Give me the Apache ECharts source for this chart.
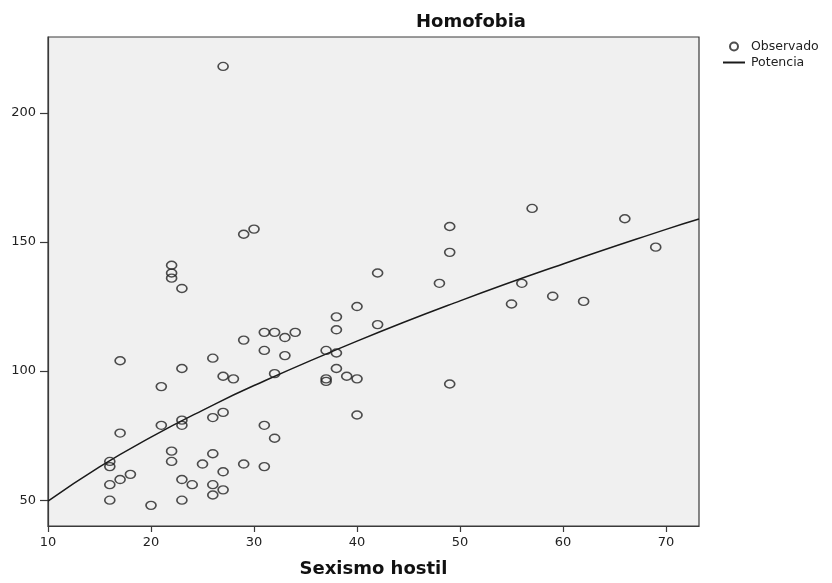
<!DOCTYPE html>
<html>
<head>
<meta charset="utf-8">
<script src="https://cdn.jsdelivr.net/npm/echarts@6/dist/echarts.min.js"></script>
<style>
  html, body { margin: 0; padding: 0; background: #fff; }
  #chart { width: 832px; height: 583px; }
</style>
</head>
<body>
<div id="chart"></div>
<script>
// observed points (Sexismo hostil, Homofobia)
const obsX = [16, 16, 16, 16, 17, 17, 17, 18, 20, 21, 21,
  22, 22, 22, 22, 22, 23, 23, 23, 23, 23, 23, 24, 25,
  26, 26, 26, 26, 26, 27, 27, 27, 27, 27, 28, 29, 29, 29, 30,
  31, 31, 31, 31, 32, 32, 32, 33, 33, 34, 37, 37, 37,
  38, 38, 38, 38, 39, 40, 40, 40, 42, 42, 48, 49, 49, 49,
  55, 56, 57, 59, 62, 66, 69]
const obsY = [65, 63, 56, 50, 104, 76, 58, 60, 48, 94, 79,
  141, 138, 136, 69, 65, 132, 101, 81, 79, 58, 50, 56, 64,
  105, 82, 68, 56, 52, 218, 98, 84, 61, 54, 97, 153, 112, 64, 155,
  115, 108, 79, 63, 115, 99, 74, 113, 106, 115, 108, 97, 96,
  121, 116, 107, 101, 98, 125, 97, 83, 138, 118, 134, 156, 146, 95,
  126, 134, 163, 129, 127, 159, 148]

// fitted power curve
const fitX = [10, 15, 20, 25, 30, 40, 50, 60, 70, 73.2]
const fitY = [49.6, 62.9, 74.4, 84.8, 94.4, 111.6, 127.2, 141.5, 154.9, 158.9]

const xTicks = [10, 20, 30, 40, 50, 60, 70]
const yTicks = [50, 100, 150, 200]

const FONT = 'DejaVu Sans'
const AXIS_COLOR = '#3a3a3a'

const chart = echarts.init(document.getElementById('chart'))

const option = {
  animation: false,
  backgroundColor: '#fff',
  title: {
    text: 'Homofobia',
    left: 411,
    top: 8,
    textStyle: { fontFamily: FONT, fontSize: 18, fontWeight: 'bold', color: '#111' }
  },
  legend: {
    orient: 'vertical',
    left: 717,
    top: 35,
    itemWidth: 22,
    itemHeight: 8,
    itemGap: 3,
    textStyle: { fontFamily: FONT, fontSize: 12.5, color: '#222', padding: [0, 0, 0, 1] },
    data: [
      { name: 'Observado', icon: 'circle' },
      // line only, no dot on the legend line
      { name: 'Potencia', itemStyle: { opacity: 0 } }
    ]
  },
  grid: {
    left: 48,
    top: 37,
    right: 133,
    bottom: 55,
    show: true,
    backgroundColor: '#f0f0f0',
    borderColor: AXIS_COLOR,
    borderWidth: 1.2
  },
  xAxis: {
    type: 'value',
    min: 10,
    max: 73.2,
    interval: 10,
    name: 'Sexismo hostil',
    nameLocation: 'middle',
    nameGap: 34,
    nameTextStyle: { fontFamily: FONT, fontSize: 18, fontWeight: 'bold', color: '#111' },
    axisLine: { lineStyle: { color: AXIS_COLOR, width: 1.2 } },
    axisTick: { length: 6, customValues: xTicks, lineStyle: { color: AXIS_COLOR, width: 1.2 } },
    axisLabel: { customValues: xTicks, margin: 10, fontFamily: FONT, fontSize: 13, color: '#222' },
    splitLine: { show: false }
  },
  yAxis: {
    type: 'value',
    min: 40,
    max: 229.4,
    axisLine: { show: true, lineStyle: { color: AXIS_COLOR, width: 1.2 } },
    axisTick: { show: true, length: 8, customValues: yTicks, lineStyle: { color: AXIS_COLOR, width: 1.2 } },
    axisLabel: { customValues: yTicks, margin: 12, fontFamily: FONT, fontSize: 13, color: '#222' },
    splitLine: { show: false }
  },
  series: [
    {
      name: 'Observado',
      type: 'scatter',
      symbol: 'circle',
      symbolSize: [10, 8],
      itemStyle: { color: 'rgba(0,0,0,0)', borderColor: '#222', borderWidth: 1.5 },
      data: obsX.map((x, i) => [x, obsY[i]]),
      z: 3
    },
    {
      name: 'Potencia',
      type: 'line',
      symbol: 'none',
      smooth: true,
      lineStyle: { color: '#1a1a1a', width: 1.5 },
      itemStyle: { color: '#1a1a1a' },
      data: fitX.map((x, i) => [x, fitY[i]]),
      z: 2
    }
  ]
}

chart.setOption(option)
</script>
</body>
</html>
